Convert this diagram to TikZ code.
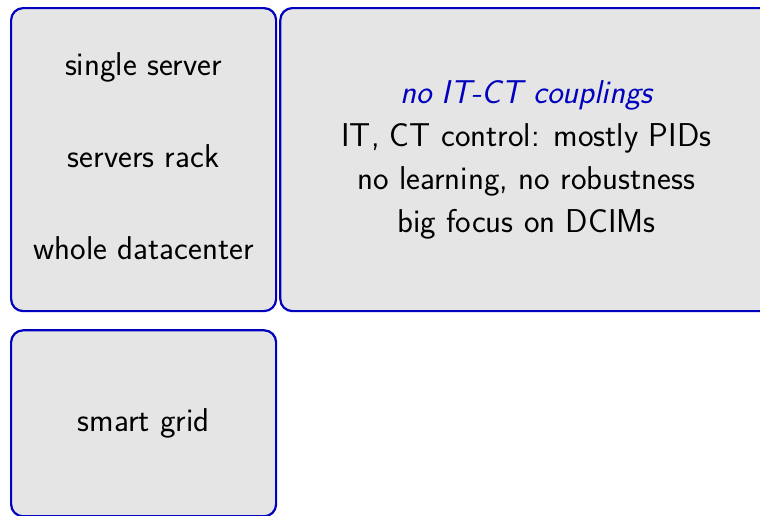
\documentclass[tikz,border=0pt]{standalone}
\usepackage{fontspec}
\usepackage{tikz}
\usetikzlibrary{positioning}
\definecolor{panelblue}{RGB}{0,0,190}
\definecolor{panelgray}{RGB}{229,229,229}
\tikzset{
  panel/.style={draw=panelblue, line width=2.2pt, fill=panelgray, rounded corners=12pt, inner sep=0pt},
  label/.style={font=\sffamily\fontsize{33}{43}\selectfont, align=center, inner sep=0pt}
}
\begin{document}
\begin{tikzpicture}
    \useasboundingbox (0,0) rectangle (760pt,-515pt);
    \node[panel, minimum width=265pt, minimum height=303pt, anchor=north west] (scales) at (10pt,-7pt) {};
    \node[panel, minimum width=492pt, minimum height=303pt, right=2pt of scales] (status) {};
    \node[panel, minimum width=265pt, minimum height=186pt, below=17pt of scales] (grid) {};
    \node[label, anchor=base] (srv) at ([yshift=-68pt]scales.north) {single server};
    \node[label, below=92pt of srv.base, anchor=base] (rack) {servers rack};
    \node[label, below=92pt of rack.base, anchor=base] (dc) {whole datacenter};
    \node[label] (facts) at (status.center) {{\color{panelblue}\itshape no IT-CT couplings}\\IT, CT control: mostly PIDs\\no learning, no robustness\\big focus on DCIMs};
    \node[label] (sg) at (grid.center) {smart grid};
\end{tikzpicture}
\end{document}
